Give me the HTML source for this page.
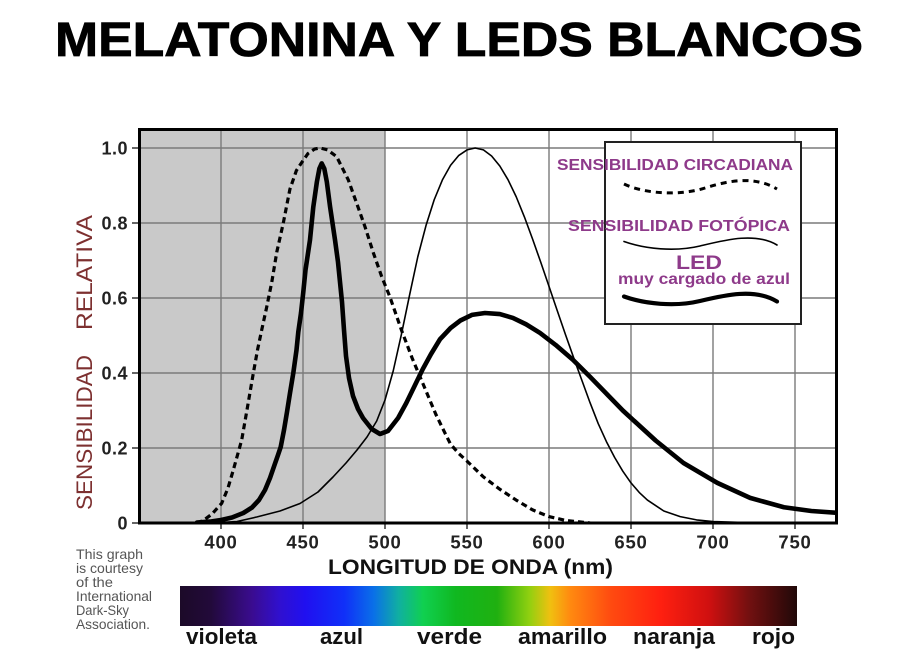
<!DOCTYPE html>
<html><head><meta charset="utf-8"><style>
html,body{margin:0;padding:0;background:#fff;}
svg{display:block;}
</style></head><body>
<svg width="912" height="659" viewBox="0 0 912 659" xmlns="http://www.w3.org/2000/svg">
<defs>
<linearGradient id="spec" x1="0" x2="1" y1="0" y2="0">
<stop offset="0" stop-color="#1c0a28"/>
<stop offset="0.05" stop-color="#220a3a"/>
<stop offset="0.117" stop-color="#3a0c90"/>
<stop offset="0.162" stop-color="#3010d0"/>
<stop offset="0.203" stop-color="#2010f0"/>
<stop offset="0.267" stop-color="#1030f8"/>
<stop offset="0.314" stop-color="#0a70e8"/>
<stop offset="0.355" stop-color="#10b0a0"/>
<stop offset="0.394" stop-color="#10d050"/>
<stop offset="0.447" stop-color="#10b820"/>
<stop offset="0.514" stop-color="#20b010"/>
<stop offset="0.566" stop-color="#90d010"/>
<stop offset="0.60" stop-color="#f0c010"/>
<stop offset="0.632" stop-color="#ff8a10"/>
<stop offset="0.699" stop-color="#ff4a10"/>
<stop offset="0.778" stop-color="#ff2010"/>
<stop offset="0.857" stop-color="#d01010"/>
<stop offset="0.924" stop-color="#701010"/>
<stop offset="1" stop-color="#200808"/>
</linearGradient>
<clipPath id="plot"><rect x="139" y="129" width="698" height="395"/></clipPath>
</defs>

<!-- Title -->
<text x="55" y="56" font-family="Liberation Sans, Arial, sans-serif" font-weight="bold" font-size="48" textLength="808" lengthAdjust="spacingAndGlyphs" fill="#000" stroke="#000" stroke-width="0.8">MELATONINA Y LEDS BLANCOS</text>

<!-- shaded region -->
<rect x="139" y="129" width="246" height="394" fill="#c9c9c9"/>

<!-- grid -->
<g stroke="#7a7a7a" stroke-width="1.4">
<line x1="221" y1="130" x2="221" y2="523"/>
<line x1="303" y1="130" x2="303" y2="523"/>
<line x1="385" y1="130" x2="385" y2="523"/>
<line x1="467" y1="130" x2="467" y2="523"/>
<line x1="549" y1="130" x2="549" y2="523"/>
<line x1="631" y1="130" x2="631" y2="523"/>
<line x1="713" y1="130" x2="713" y2="523"/>
<line x1="795" y1="130" x2="795" y2="523"/>
<line x1="139" y1="148" x2="836" y2="148"/>
<line x1="139" y1="223" x2="836" y2="223"/>
<line x1="139" y1="298" x2="836" y2="298"/>
<line x1="139" y1="373" x2="836" y2="373"/>
<line x1="139" y1="448" x2="836" y2="448"/>
</g>

<!-- ticks -->
<g stroke="#333" stroke-width="1.5">
<line x1="132" y1="148" x2="139" y2="148"/>
<line x1="132" y1="223" x2="139" y2="223"/>
<line x1="132" y1="298" x2="139" y2="298"/>
<line x1="132" y1="373" x2="139" y2="373"/>
<line x1="132" y1="448" x2="139" y2="448"/>
<line x1="132" y1="523" x2="139" y2="523"/>
<line x1="221" y1="523" x2="221" y2="529"/>
<line x1="303" y1="523" x2="303" y2="529"/>
<line x1="385" y1="523" x2="385" y2="529"/>
<line x1="467" y1="523" x2="467" y2="529"/>
<line x1="549" y1="523" x2="549" y2="529"/>
<line x1="631" y1="523" x2="631" y2="529"/>
<line x1="713" y1="523" x2="713" y2="529"/>
<line x1="795" y1="523" x2="795" y2="529"/>
</g>

<!-- legend box -->
<rect x="605" y="142" width="196" height="182" fill="#fff" stroke="#222" stroke-width="2"/>

<g clip-path="url(#plot)" fill="none" stroke="#000" stroke-linejoin="round" stroke-linecap="round">
<!-- photopic thin -->
<polyline stroke-width="1.6" points="205,522.8 221,522.4 237,521.5 256.7,517 280,511 300,503.5 318,492 333,477 346,463 357,450 367,437 376.7,421 385,400 393.2,371 401.4,334.4 409.6,294.9 417.8,256.75 426,225.55 434.2,199.75 442.4,179.9 450.6,165.25 458.8,155.4 467,149.9 475.2,148 483.4,149.9 491.6,156 499.8,166 508,179.7 516.2,196.75 524.4,216.9 532.6,239.1 540.8,262.4 549,286.4 557.2,310.45 565.4,334.4 573.6,357.55 581.8,380.1 590,402.6 598.2,423.6 606.4,441.6 614.6,457.4 622.8,471.2 631,482.9 639.2,492.4 647.4,500.1 663.8,511 680.2,516.6 696.6,519.9 713,521.5 745.8,522.6 778.6,522.9"/>
<!-- circadian dashed -->
<polyline stroke-width="3.2" stroke-dasharray="6,4" stroke-linecap="butt" points="196.4,523 203.3,520.5 212,514 221.7,503.3 228,488 233.3,470 241.7,440 247.5,407 253.3,373.3 257.5,350 261.7,330 266.5,308 271.8,282 276.8,252 283.3,223 289.9,189.25 296.4,170.5 301.4,163 307.9,153.6 314.5,149.1 320.1,148 327.6,149.9 336.6,156.6 348.3,179.9 356.6,203.1 365,226.75 373.4,253 381.7,276.6 389.9,296.9 401.4,329.9 412.1,358 422.7,383.1 435.8,414.25 444,431.1 450.6,444.25 458.8,453.6 467,461.1 483.4,476.9 499.8,489.25 516.2,500.1 532.6,509.9 549,516.6 565.4,520.4 590,523"/>
<!-- LED thick -->
<polyline stroke-width="4.6" points="197,522.5 210,521.6 220,520.2 232,517.5 243.3,513 252,507.5 259,500 265,490 270,478 274.5,465 278,455 280.7,447 284,430 287,412 290,393 293.3,373 296.5,350 298.3,332 301,313 303.3,292 305.5,270 310,239.9 313.3,206.9 316.9,181.75 319.4,168.6 321.7,163.4 324.3,168.6 326.8,181.75 330.1,206.9 335,239.9 338,262 340,282 342,302 344,330 346,356 349,378 353,396 358,409 363,418 371.7,429 380,434 388,431 398.1,418 406.3,403 414.5,386.1 422.7,369.25 430.9,354.25 440,339.25 450.6,328 460.4,320.5 471.9,314.9 485,313 499.8,314.1 512.9,317.9 526,324.25 540,332.9 555.6,344.9 573,359.9 590,376.75 606.4,393.6 622.8,410.5 639.2,425.5 655.6,440.5 683.5,463 717.3,482.9 750.1,497.9 783.9,507.25 811.4,511 840,513"/>
</g>

<!-- plot frame -->
<rect x="139.5" y="129.5" width="697" height="393.5" fill="none" stroke="#000" stroke-width="3"/>

<!-- legend content -->
<g font-family="Liberation Sans, Arial, sans-serif" font-weight="bold" fill="#8e3a8a">
<text x="557" y="170" font-size="16" textLength="236" lengthAdjust="spacingAndGlyphs">SENSIBILIDAD CIRCADIANA</text>
<text x="568" y="231" font-size="16" textLength="222" lengthAdjust="spacingAndGlyphs">SENSIBILIDAD FOTÓPICA</text>
<text x="676" y="269" font-size="19" textLength="46" lengthAdjust="spacingAndGlyphs">LED</text>
<text x="618" y="284" font-size="15.5" textLength="172" lengthAdjust="spacingAndGlyphs">muy cargado de azul</text>
</g>
<g fill="none" stroke="#000" stroke-linecap="round">
<path d="M624,184 C645,194 680,196 705,188 S755,176 777,189" stroke-width="3" stroke-dasharray="6,5" stroke-linecap="butt"/>
<path d="M624,241.5 C645,249 675,252 700,246 S755,232 777,245" stroke-width="1.6"/>
<path d="M624,296.5 C645,304 675,307 700,301 S755,288 777,301.5" stroke-width="4.2"/>
</g>

<!-- y tick labels -->
<g font-family="Liberation Sans, Arial, sans-serif" font-weight="bold" font-size="18" fill="#222" text-anchor="end" letter-spacing="0.5">
<text x="128" y="154.5">1.0</text>
<text x="128" y="229.5">0.8</text>
<text x="128" y="304.5">0.6</text>
<text x="128" y="379.5">0.4</text>
<text x="128" y="454.5">0.2</text>
<text x="128" y="529.5">0</text>
</g>

<!-- x tick labels -->
<g font-family="Liberation Sans, Arial, sans-serif" font-weight="bold" font-size="18.5" fill="#222" text-anchor="middle" letter-spacing="0.8">
<text x="221" y="548.5">400</text>
<text x="303" y="548.5">450</text>
<text x="385" y="548.5">500</text>
<text x="467" y="548.5">550</text>
<text x="549" y="548.5">600</text>
<text x="631" y="548.5">650</text>
<text x="713" y="548.5">700</text>
<text x="795" y="548.5">750</text>
</g>

<!-- axis titles -->
<text x="328" y="574" font-family="Liberation Sans, Arial, sans-serif" font-weight="bold" font-size="21" textLength="285" lengthAdjust="spacingAndGlyphs" fill="#111">LONGITUD DE ONDA (nm)</text>
<g font-family="Liberation Sans, Arial, sans-serif" font-size="22.5" fill="#7d3030">
<text transform="translate(92,510) rotate(-90)" textLength="155" lengthAdjust="spacingAndGlyphs">SENSIBILIDAD</text>
<text transform="translate(92,330) rotate(-90)" textLength="115" lengthAdjust="spacingAndGlyphs">RELATIVA</text>
</g>

<!-- attribution -->
<g font-family="Liberation Sans, Arial, sans-serif" font-size="14" fill="#555">
<text x="76" y="559" textLength="67" lengthAdjust="spacingAndGlyphs">This graph</text>
<text x="76" y="573" textLength="67" lengthAdjust="spacingAndGlyphs">is courtesy</text>
<text x="76" y="587" textLength="37" lengthAdjust="spacingAndGlyphs">of the</text>
<text x="76" y="601" textLength="76" lengthAdjust="spacingAndGlyphs">International</text>
<text x="76" y="615" textLength="53" lengthAdjust="spacingAndGlyphs">Dark-Sky</text>
<text x="76" y="629" textLength="74" lengthAdjust="spacingAndGlyphs">Association.</text>
</g>

<!-- spectrum bar -->
<rect x="180" y="586" width="617" height="40" fill="url(#spec)"/>
<g font-family="Liberation Sans, Arial, sans-serif" font-weight="bold" font-size="22" fill="#111">
<text x="186" y="644" textLength="71" lengthAdjust="spacingAndGlyphs">violeta</text>
<text x="320" y="644" textLength="43" lengthAdjust="spacingAndGlyphs">azul</text>
<text x="417" y="644" textLength="65" lengthAdjust="spacingAndGlyphs">verde</text>
<text x="518" y="644" textLength="89" lengthAdjust="spacingAndGlyphs">amarillo</text>
<text x="633" y="644" textLength="82" lengthAdjust="spacingAndGlyphs">naranja</text>
<text x="752" y="644" textLength="43" lengthAdjust="spacingAndGlyphs">rojo</text>
</g>
</svg>
</body></html>
